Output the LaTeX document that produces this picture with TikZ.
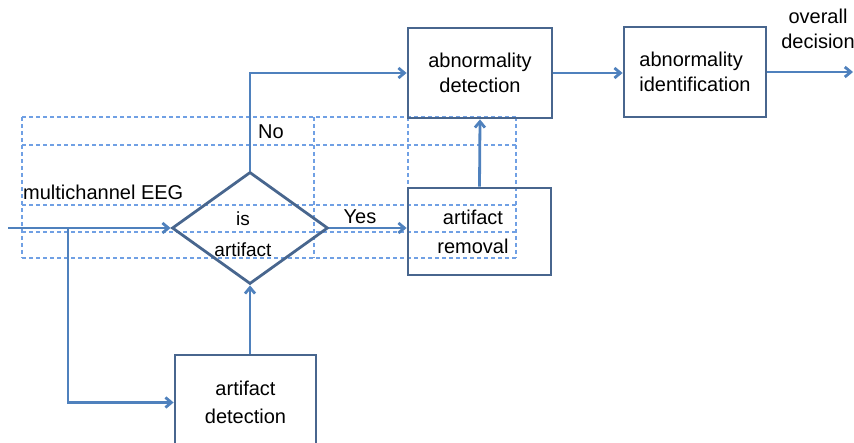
\documentclass[tikz,border=0pt]{standalone}
\usepackage{fontspec}
\setmainfont{Liberation Sans}
\usetikzlibrary{shapes.geometric,arrows.meta}

\definecolor{boxblue}{RGB}{72,102,142}
\definecolor{lineblue}{RGB}{79,129,189}
\definecolor{gridblue}{RGB}{112,160,228}

\tikzset{
  blk/.style={draw=boxblue, line width=2.8pt, inner sep=0pt, align=center,
    font=\fontsize{20}{25}\selectfont},
  conn/.style={draw=lineblue, line width=2.8pt, ->},
  gridline/.style={draw=gridblue, line width=1.2pt, dash pattern=on 4pt off 3pt},
  lbl/.style={inner sep=0pt, font=\fontsize{20}{25}\selectfont}
}

\begin{document}
\begin{tikzpicture}[x=1pt, y=-1pt, >={Straight Barb[length=6pt,width=10pt]}]

\useasboundingbox (0,0) rectangle (854,443);

% dashed grid
\foreach \gy in {117,145,205,232,258}
  \draw[gridline] (22,\gy) -- (516,\gy);
\foreach \gx in {22,314,408,516}
  \draw[gridline] (\gx,117) -- (\gx,258);

% blocks
\node[blk, diamond, minimum width=156pt, minimum height=112pt] (isart) at (250,228)
  {};
\node[lbl, font=\fontsize{19}{31}\selectfont, align=center] (isarttxt) at (243,234)
  {is\\artifact};
\node[blk, minimum width=144pt, minimum height=90pt] (abdet) at (480,73)
  {abnormality\\detection};
\node[blk, minimum width=142pt, minimum height=90pt, align=left] (abid) at (695,72)
  {abnormality\\identification};
\node[blk, minimum width=143pt, minimum height=87pt] (artrem) at (479.5,231.5)
  {};
\node[lbl, align=center] (artremtxt) at (473,232)
  {artifact\\[4pt]removal};
\node[blk, minimum width=141pt, minimum height=95pt] (artdet) at (245.5,402.5)
  {artifact\\[3pt]detection};

\coordinate (in) at (8,228);
\coordinate (split) at (68,228);
\coordinate (out) at (853,72);

% connectors
\draw[conn] (in) -- (isart.west);
\draw[conn] (split) |- (artdet.west);
\draw[conn] (artdet.north -| isart.south) -- (isart.south);
\draw[conn] (isart.north) |- (abdet.west);
\draw[conn] (isart.east) -- (isart.east -| artrem.west);
\draw[conn] (artrem.north) -- (abdet.south);
\draw[conn] (abdet.east) -- (abdet.east -| abid.west);
\draw[conn] (abid.east) -- (abid.east -| out);

% labels
\node[lbl, anchor=west] (eeg) at (23,192) {multichannel EEG};
\node[lbl] (no) at (271,132) {No};
\node[lbl] (yes) at (360,217) {Yes};
\node[lbl, align=center] (dec) at (818,29) {overall\\decision};

\end{tikzpicture}
\end{document}
